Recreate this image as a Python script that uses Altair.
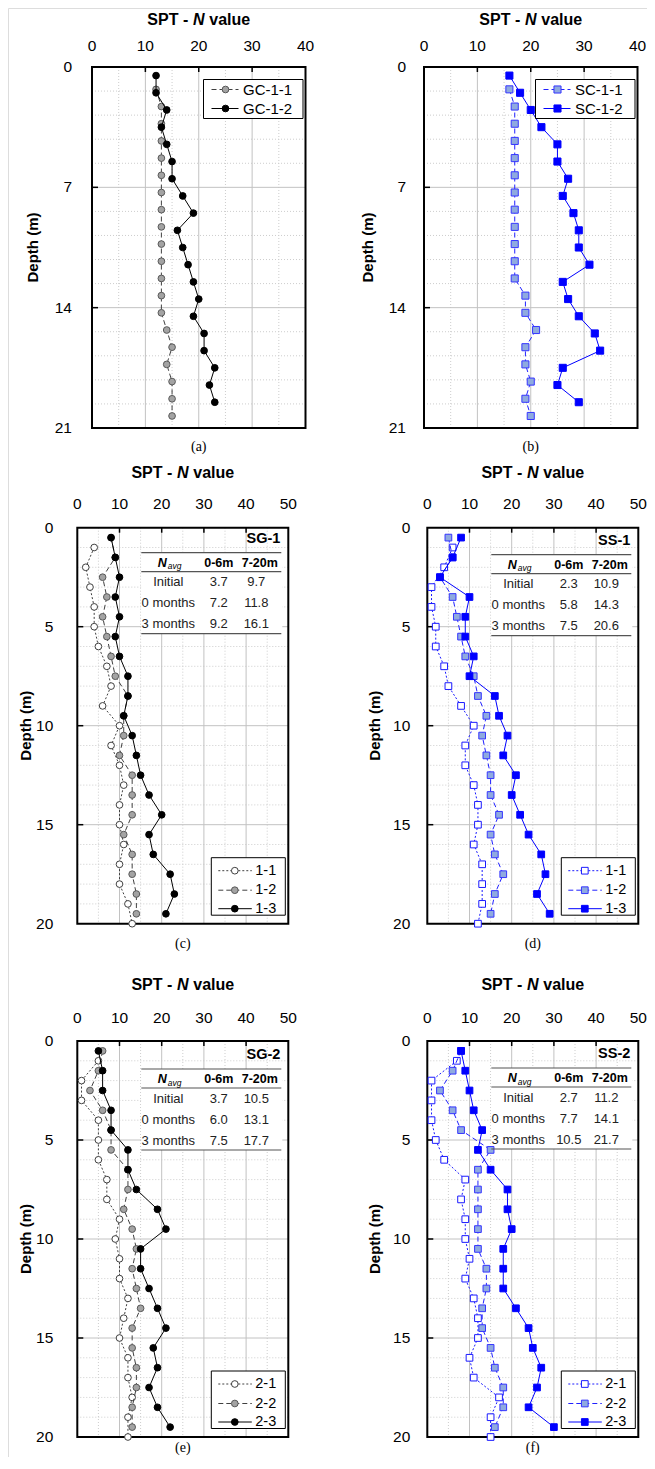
import altair as alt
import pandas as pd

FONT = "Liberation Sans"
SERIF = "Liberation Serif"
ONE = pd.DataFrame({"k": [0]})
W, H = 639, 1449

# ---------------- data ----------------
DEPTH_05 = [0.5, 1.5, 2.5, 3.5, 4.5, 5.5, 6.5, 7.5, 8.5, 9.5, 10.5, 11.5, 12.5, 13.5, 14.5, 15.5, 16.5, 17.5, 18.5, 19.5]
DEPTH_13 = [1.3, 2.3, 3.3, 4.3, 5.3, 6.3, 7.3, 8.3, 9.3, 10.3, 11.3, 12.3, 13.3, 14.3, 15.3, 16.3, 17.3, 18.3, 19.3, 20.3]
DEPTH_1 = [1, 2, 3, 4, 5, 6, 7, 8, 9, 10, 11, 12, 13, 14, 15, 16, 17, 18, 19, 20]

GC_1_1 = [12, 13, 13, 13, 13, 13, 13, 13, 13, 13, 13, 13, 13, 13, 14, 15, 14, 15, 15, 15]
GC_1_2 = [12, 12, 14, 13, 14, 15, 15, 17, 19, 16, 17, 18, 19, 20, 19, 21, 21, 23, 22, 23]
SC_1_1 = [16, 17, 17, 17, 17, 17, 17, 17, 17, 17, 17, 17, 19, 19, 21, 19, 19, 20, 19, 20]
SC_1_2 = [16, 18, 20, 22, 25, 25, 27, 26, 28, 29, 29, 31, 26, 27, 29, 32, 33, 26, 25, 29]

SG1_1 = [4, 2, 3, 4, 4, 5, 7, 8, 6, 10, 8, 10, 11, 10, 10, 11, 10, 10, 12, 13]
SG1_2 = [8, 9, 6, 7, 6, 7, 8, 9, 12, 11, 11, 10, 13, 13, 13, 11, 13, 13, 14, 14]
SG1_3 = [8, 9, 10, 9, 10, 9, 10, 12, 12, 11, 13, 14, 15, 17, 20, 17, 18, 22, 23, 21]

SS1_1 = [6, 4, 1, 1, 2, 2, 4, 5, 8, 11, 9, 9, 11, 12, 12, 11, 13, 13, 13, 12]
SS1_2 = [5, 6, 3, 6, 7, 8, 9, 11, 12, 14, 13, 14, 15, 15, 17, 15, 16, 18, 16, 15]
SS1_3 = [8, 6, 3, 10, 9, 9, 11, 10, 16, 17, 19, 18, 21, 20, 22, 24, 27, 28, 26, 29]

SG2_1 = [5, 1, 1, 5, 5, 5, 7, 7, 10, 9, 10, 10, 12, 11, 10, 12, 12, 13, 12, 12]
SG2_2 = [6, 5, 3, 6, 8, 8, 12, 12, 11, 13, 14, 13, 14, 15, 13, 13, 14, 14, 13, 13]
SG2_3 = [5, 6, 6, 8, 8, 12, 12, 14, 19, 21, 15, 15, 17, 19, 21, 18, 19, 17, 19, 22]

SS2_1 = [7, 1, 1, 1, 2, 4, 9, 8, 9, 9, 10, 9, 11, 12, 12, 10, 11, 17, 15, 15]
SS2_2 = [8, 6, 3, 6, 8, 15, 12, 12, 12, 12, 12, 14, 14, 13, 13, 15, 16, 18, 18, 16]
SS2_3 = [8, 9, 10, 11, 13, 12, 15, 19, 19, 20, 18, 18, 18, 21, 24, 25, 27, 26, 24, 30]

TABLE_HEAD = ["0-6m", "7-20m"]
TABLE_ROWS = ["Initial", "0 months", "3 months"]
SG1_AVG = [["3.7", "9.7"], ["7.2", "11.8"], ["9.2", "16.1"]]
SS1_AVG = [["2.3", "10.9"], ["5.8", "14.3"], ["7.5", "20.6"]]
SG2_AVG = [["3.7", "10.5"], ["6.0", "13.1"], ["7.5", "17.7"]]
SS2_AVG = [["2.7", "11.2"], ["7.7", "14.1"], ["10.5", "21.7"]]

X40 = [0, 10, 20, 30, 40]
X50 = [0, 10, 20, 30, 40, 50]
Y21 = [0, 7, 14, 21]
Y20 = [0, 5, 10, 15, 20]
YMIN21 = [1.4, 2.8, 4.2, 5.6, 8.4, 9.8, 11.2, 12.6, 15.4, 16.8, 18.2, 19.6]
YMIN20 = [1, 2, 3, 4, 6, 7, 8, 9, 11, 12, 13, 14, 16, 17, 18, 19]

# ---------------- styles ----------------
BLACK = dict(fill="#000000", stroke="#000000", line="#000000", dash=None)
GRAY = dict(fill="#A3A3A3", stroke="#595959", line="#404040", dash=[5, 3])
WHITE = dict(fill="#FFFFFF", stroke="#404040", line="#404040", dash=[2, 2])
BLUE = dict(fill="#0000FF", stroke="#0000FF", line="#0000FF", dash=None)
LBLUE = dict(fill="#8FAADF", stroke="#3535FF", line="#2020FF", dash=[5, 3])
WBLUE = dict(fill="#FFFFFF", stroke="#1A1AFF", line="#1A1AFF", dash=[2, 2])
GRID_MIN = "#CDCDCD"
GRID_MAJ = "#C2C2C2"


def V(v):
    return alt.value(v)


def txt(x, y, s, **kw):
    kw.setdefault("font", FONT)
    kw.setdefault("color", "black")
    kw.setdefault("baseline", "middle")
    return alt.Chart(ONE).mark_text(**kw).encode(x=V(x), y=V(y), text=V(s))


def panel_layers(c):
    ox, oy, w, h = c["ox"], c["oy"], c["w"], c["h"]
    xs = alt.Scale(domain=[0, c["xmax"]], range=[ox, ox + w], nice=False, zero=False)
    ys = alt.Scale(domain=[0, c["ymax"]], range=[oy, oy + h], nice=False, zero=False)

    def X(f):
        return alt.X(f"{f}:Q", scale=xs, axis=None)

    def Y(f):
        return alt.Y(f"{f}:Q", scale=ys, axis=None)

    L = []
    # gridlines
    L.append(alt.Chart(pd.DataFrame({"v": c["xmin"]})).mark_rule(
        color=GRID_MIN, strokeWidth=1, strokeDash=[1, 2]).encode(x=X("v"), y=V(oy), y2=V(oy + h)))
    L.append(alt.Chart(pd.DataFrame({"v": c["ymin"]})).mark_rule(
        color=GRID_MIN, strokeWidth=1, strokeDash=[1, 2]).encode(y=Y("v"), x=V(ox), x2=V(ox + w)))
    L.append(alt.Chart(pd.DataFrame({"v": c["xmaj"]})).mark_rule(
        color=GRID_MAJ, strokeWidth=1).encode(x=X("v"), y=V(oy), y2=V(oy + h)))
    L.append(alt.Chart(pd.DataFrame({"v": c["ymaj"]})).mark_rule(
        color=GRID_MAJ, strokeWidth=1).encode(y=Y("v"), x=V(ox), x2=V(ox + w)))

    tb = c.get("table")
    if tb:
        ty0 = oy + tb["oy"]
        L.append(alt.Chart(ONE).mark_rect(fill="white").encode(
            x=V(ox + 64), x2=V(ox + 205), y=V(ty0 + 25), y2=V(ty0 + 106)))

    # frame and inward ticks
    L.append(alt.Chart(ONE).mark_rect(fillOpacity=0, stroke="black", strokeWidth=2).encode(
        x=V(ox), x2=V(ox + w), y=V(oy), y2=V(oy + h)))
    L.append(alt.Chart(pd.DataFrame({"v": c["xmaj"]})).mark_rule(
        color="black", strokeWidth=1.5).encode(x=X("v"), y=V(oy), y2=V(oy + 5)))
    L.append(alt.Chart(pd.DataFrame({"v": c["ymaj"]})).mark_rule(
        color="black", strokeWidth=1.5).encode(y=Y("v"), x=V(ox), x2=V(ox + 6)))

    # tick labels
    L.append(alt.Chart(pd.DataFrame({"v": c["xlab"]})).mark_text(
        font=FONT, fontSize=15.5, color="black", align="center", baseline="middle").encode(
        x=X("v"), y=V(oy + c["xly"]), text=alt.Text("v:Q", format="d")))
    L.append(alt.Chart(pd.DataFrame({"v": c["ylab"]})).mark_text(
        font=FONT, fontSize=15.5, color="black", align="right", baseline="middle").encode(
        y=Y("v"), x=V(ox + c["ylx"]), text=alt.Text("v:Q", format="d")))

    # data series
    for s in c["series"]:
        df = pd.DataFrame({"depth": s["depth"], "N": s["values"]})
        st = s["style"]
        lk = dict(color=st["line"], strokeWidth=1)
        if st["dash"]:
            lk["strokeDash"] = st["dash"]
        L.append(alt.Chart(df).mark_line(**lk).encode(
            x=X("N"), y=Y("depth"), order="depth:Q"))
        L.append(alt.Chart(df).mark_point(
            shape=s["shape"], filled=True, fill=st["fill"], stroke=st["stroke"],
            strokeWidth=1, size=c["msize"], opacity=1).encode(x=X("N"), y=Y("depth")))

    # legend
    lg = c["legend"]
    bx1, bx2, by1, by2 = lg["box"]
    L.append(alt.Chart(ONE).mark_rect(fill="white", stroke="black", strokeWidth=1).encode(
        x=V(ox + bx1), x2=V(ox + bx2), y=V(oy + by1), y2=V(oy + by2)))
    for s, ry in zip(c["series"], lg["rows"]):
        st = s["style"]
        lk = dict(color=st["line"], strokeWidth=1)
        if st["dash"]:
            lk["strokeDash"] = st["dash"]
        L.append(alt.Chart(ONE).mark_rule(**lk).encode(
            x=V(ox + lg["lx"][0]), x2=V(ox + lg["lx"][1]), y=V(oy + ry)))
        L.append(alt.Chart(ONE).mark_point(
            shape=s["shape"], filled=True, fill=st["fill"], stroke=st["stroke"],
            strokeWidth=1, size=c["msize"], opacity=1).encode(x=V(ox + lg["sx"]), y=V(oy + ry)))
        L.append(txt(ox + lg["tx"], oy + ry, s["name"], fontSize=lg["fs"], align="left"))

    # table
    if tb:
        ty0 = oy + tb["oy"]
        L.append(txt(ox + 203, ty0 + 11, tb["title"], fontSize=14.5, fontWeight="bold", align="right"))
        for ly in (25, 44, 106):
            L.append(alt.Chart(ONE).mark_rule(color="#555555", strokeWidth=1.2).encode(
                x=V(ox + 64), x2=V(ox + 204), y=V(ty0 + ly)))
        L.append(txt(ox + 85, ty0 + 35, "N", fontSize=12.5, fontWeight="bold",
                     fontStyle="italic", align="center"))
        L.append(txt(ox + 90.5, ty0 + 38.5, "avg", fontSize=8.5, fontStyle="italic", align="left"))
        L.append(txt(ox + 141.5, ty0 + 35, TABLE_HEAD[0], fontSize=12.5, fontWeight="bold", align="center"))
        L.append(txt(ox + 182.5, ty0 + 35, TABLE_HEAD[1], fontSize=12.5, fontWeight="bold", align="center"))
        for i, (lab, vals) in enumerate(zip(TABLE_ROWS, tb["values"])):
            ry = ty0 + 54.5 + 21 * i
            L.append(txt(ox + 91, ry, lab, fontSize=13, align="center", color="#222222"))
            L.append(txt(ox + 141.5, ry, vals[0], fontSize=13, align="center", color="#222222"))
            L.append(txt(ox + 179, ry, vals[1], fontSize=13, align="center", color="#222222"))

    # axis titles & caption
    cx = ox + w / 2
    ty = oy + c["title_y"]
    L.append(txt(cx - 10.5, ty, "SPT -", fontSize=16, fontWeight="bold", align="right"))
    L.append(txt(cx, ty, "N", fontSize=16, fontWeight="bold", fontStyle="italic", align="center"))
    L.append(txt(cx + 10.5, ty, "value", fontSize=16, fontWeight="bold", align="left"))
    L.append(txt(ox + c["depth_x"], oy + h / 2, "Depth (m)", fontSize=15, fontWeight="bold",
                 angle=270, align="center"))
    L.append(txt(cx, min(oy + h + c["cap_dy"], H - 9), c["caption"], font=SERIF, fontSize=14,
                 align="center"))
    return L


def base_ab(**kw):
    d = dict(w=213.5, h=361, xmax=40, ymax=21, xlab=X40, ylab=Y21,
             xmaj=[10, 20, 30], xmin=[5, 15, 25, 35], ymaj=[7, 14], ymin=YMIN21,
             xly=-21, ylx=-20, title_y=-47, cap_dy=19, msize=45,
             legend=dict(box=(111.5, 211, 12.5, 51.5), rows=[22.5, 41.5],
                         lx=(119.5, 146.5), sx=133.5, tx=151, fs=15))
    d.update(kw)
    return d


def base_cf(**kw):
    d = dict(w=211, h=396, xmax=50, ymax=20, xlab=X50, ylab=Y20,
             xmaj=[10, 20, 30, 40], xmin=[5, 15, 25, 35, 45], ymaj=[5, 10, 15], ymin=YMIN20,
             xly=-23.5, ylx=-24, title_y=-55, cap_dy=20, msize=45,
             legend=dict(box=(134, 208, 330, 387.5), rows=[343, 362.5, 381],
                         lx=(141, 174.5), sx=157.5, tx=178, fs=14.5))
    d.update(kw)
    return d


panels = [
    base_ab(ox=84, oy=59, depth_x=-59, caption="(a)",
            series=[dict(name="GC-1-1", depth=DEPTH_13, values=GC_1_1, shape="circle", style=GRAY),
                    dict(name="GC-1-2", depth=DEPTH_05, values=GC_1_2, shape="circle", style=BLACK)]),
    base_ab(ox=416, oy=59, depth_x=-56, ylx=-18, caption="(b)", msize=50,
            series=[dict(name="SC-1-1", depth=DEPTH_13, values=SC_1_1, shape="square", style=LBLUE),
                    dict(name="SC-1-2", depth=DEPTH_05, values=SC_1_2, shape="square", style=BLUE)]),
    base_cf(ox=69.3, oy=519.7, depth_x=-51, caption="(c)",
            table=dict(title="SG-1", values=SG1_AVG, oy=0),
            series=[dict(name="1-1", depth=DEPTH_1, values=SG1_1, shape="circle", style=WHITE),
                    dict(name="1-2", depth=DEPTH_05, values=SG1_2, shape="circle", style=GRAY),
                    dict(name="1-3", depth=DEPTH_05, values=SG1_3, shape="circle", style=BLACK)]),
    base_cf(ox=419.3, oy=519.7, depth_x=-52, ylx=-17, caption="(d)",
            table=dict(title="SS-1", values=SS1_AVG, oy=2),
            series=[dict(name="1-1", depth=DEPTH_1, values=SS1_1, shape="square", style=WBLUE),
                    dict(name="1-2", depth=DEPTH_05, values=SS1_2, shape="square", style=LBLUE),
                    dict(name="1-3", depth=DEPTH_05, values=SS1_3, shape="square", style=BLUE)]),
    base_cf(ox=69.3, oy=1033, depth_x=-51, title_y=-56, caption="(e)",
            table=dict(title="SG-2", values=SG2_AVG, oy=3),
            series=[dict(name="2-1", depth=DEPTH_1, values=SG2_1, shape="circle", style=WHITE),
                    dict(name="2-2", depth=DEPTH_05, values=SG2_2, shape="circle", style=GRAY),
                    dict(name="2-3", depth=DEPTH_05, values=SG2_3, shape="circle", style=BLACK)]),
    base_cf(ox=419.3, oy=1033, depth_x=-52, ylx=-17, title_y=-56, caption="(f)",
            table=dict(title="SS-2", values=SS2_AVG, oy=2),
            series=[dict(name="2-1", depth=DEPTH_1, values=SS2_1, shape="square", style=WBLUE),
                    dict(name="2-2", depth=DEPTH_05, values=SS2_2, shape="square", style=LBLUE),
                    dict(name="2-3", depth=DEPTH_05, values=SS2_3, shape="square", style=BLUE)]),
]

layers = []
for p in panels:
    layers += panel_layers(p)

chart = alt.layer(*layers).resolve_scale(x="independent", y="independent").properties(
    width=W, height=H, padding=0, autosize=alt.AutoSizeParams(type="none")
).configure_view(stroke="transparent", strokeWidth=0).configure(background="white")

chart.save("out.html", embed_options={"renderer": "svg", "actions": False})
